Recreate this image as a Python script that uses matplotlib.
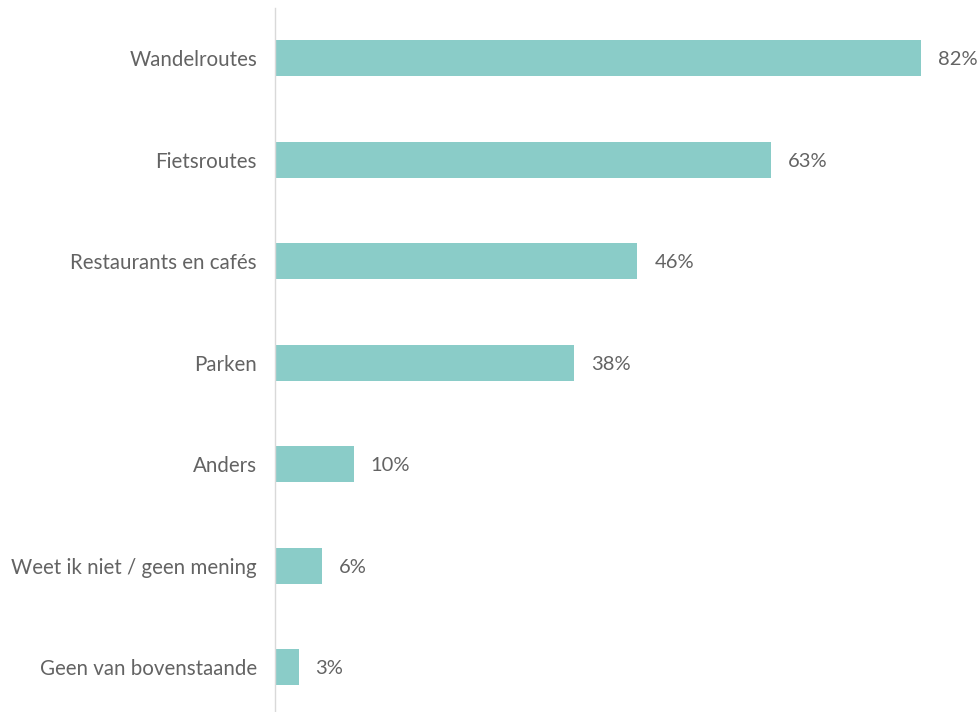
import matplotlib
matplotlib.use('Agg')
import matplotlib.pyplot as plt

plt.rcParams['font.family'] = ['Lato', 'DejaVu Sans']

# answers and percentages
categories = ['Wandelroutes', 'Fietsroutes', 'Restaurants en cafés', 'Parken',
              'Anders', 'Weet ik niet / geen mening', 'Geen van bovenstaande']
percentages = [82, 63, 46, 38, 10, 6, 3]

bar_color = '#8accc8'
text_color = '#636363'

fig = plt.figure(figsize=(9.8, 7.12), dpi=100)
ax = fig.add_axes([275 / 980, 0, 705 / 980, 704 / 712])

ypos = list(range(len(categories)))
ax.barh(ypos, percentages, height=0.355, color=bar_color)

for y, v in zip(ypos, percentages):
    ax.annotate(f'{v}%', (v, y), xytext=(12.2, 0), textcoords='offset points',
                va='center_baseline', ha='left', fontsize=14.5, color=text_color)

ax.set_xlim(0, 89.5)
ax.set_ylim(6.443, -0.493)
ax.set_yticks(ypos)
ax.set_yticklabels(categories, fontsize=14.8, color=text_color)
ax.tick_params(axis='y', length=0, pad=13)
ax.set_xticks([])

for side in ['top', 'right', 'bottom']:
    ax.spines[side].set_visible(False)
ax.spines['left'].set_color('#d9d9d9')
ax.spines['left'].set_linewidth(1)

fig.savefig('out.png', dpi=100)
